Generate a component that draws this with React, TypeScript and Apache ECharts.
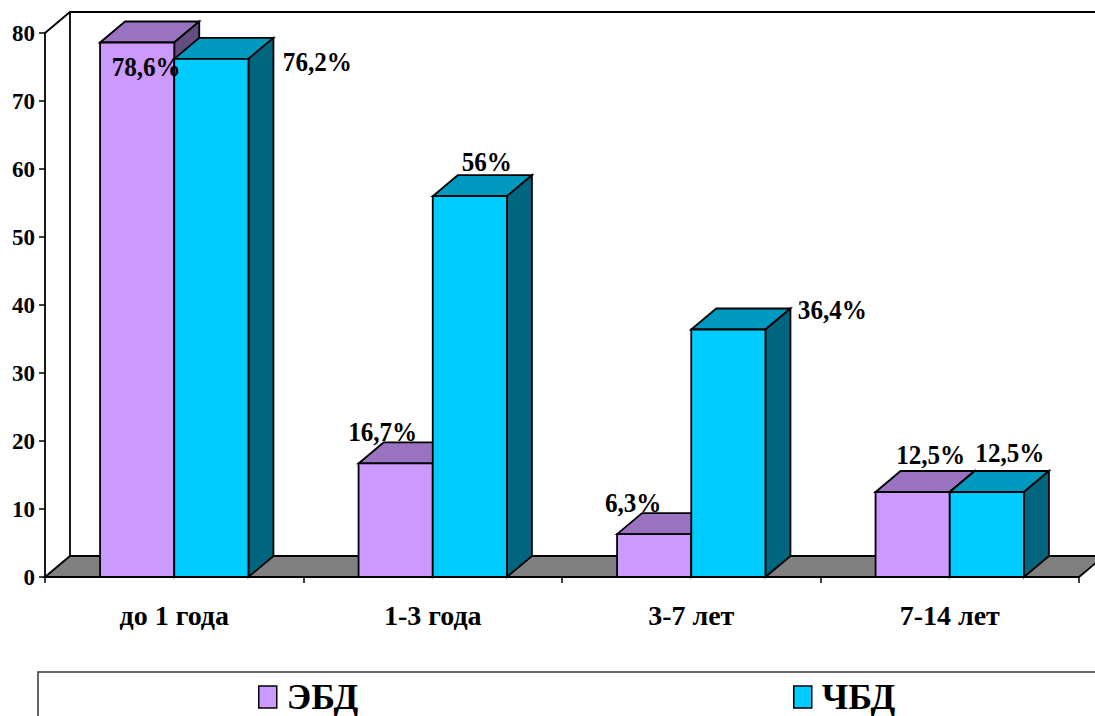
import React, { useEffect, useRef } from "react";
import * as echarts from "echarts";

const categories = ["до 1 года", "1-3 года", "3-7 лет", "7-14 лет"];
const seriesNames = ["ЭБД", "ЧБД"];
const ebdValues = [78.6, 16.7, 6.3, 12.5];
const chbdValues = [76.2, 56, 36.4, 12.5];
const yTicks = { min: 0, max: 80, interval: 10 };

// Shading of each column: front, top and side faces.
const ebdFaces = { front: "#CC99FF", top: "#9973BF", side: "#664D80" };
const chbdFaces = { front: "#00CCFF", top: "#0099BF", side: "#00667F" };

// Oblique projection of the 3D box, and the share of a category one column takes.
const DEPTH_X = 25;
const DEPTH_Y = 21;
const COLUMN_SHARE = 0.287;
const SERIF = "'Liberation Serif', 'Times New Roman', serif";

// Hand placement of the value captions relative to the top centre of their column.
const ebdLabelOffsets = [[9, 25], [-13, -31], [-21, -31], [18, -37]];
const chbdLabelOffsets = [[106, 3], [17, -34], [104, -19], [23, -39]];

const stroke = { stroke: "#000", lineWidth: 1.8 };

function columnSeries(name: string, values: number[], faces: typeof ebdFaces, side: number, z: number) {
  return {
    type: "custom",
    name,
    z,
    clip: false,
    itemStyle: { color: faces.front },
    encode: { x: 0, y: 1 },
    data: values.map((v, i) => [i, v]),
    renderItem: (_: unknown, api: any) => {
      const [cx, yTop] = api.coord([api.value(0), api.value(1)]);
      const [, yBase] = api.coord([api.value(0), 0]);
      const w = api.size([1, 0])[0] * COLUMN_SHARE;
      const x0 = side < 0 ? cx - w : cx;
      const x1 = x0 + w;
      return {
        type: "group",
        children: [
          {
            type: "polygon",
            shape: { points: [[x0, yTop], [x0 + DEPTH_X, yTop - DEPTH_Y], [x1 + DEPTH_X, yTop - DEPTH_Y], [x1, yTop]] },
            style: { fill: faces.top, ...stroke },
          },
          {
            type: "polygon",
            shape: { points: [[x1, yTop], [x1 + DEPTH_X, yTop - DEPTH_Y], [x1 + DEPTH_X, yBase - DEPTH_Y], [x1, yBase]] },
            style: { fill: faces.side, ...stroke },
          },
          {
            type: "rect",
            shape: { x: x0, y: yTop, width: w, height: yBase - yTop },
            style: { fill: faces.front, ...stroke },
          },
        ],
      };
    },
  };
}

function captionSeries(values: number[], offsets: number[][], side: number) {
  return {
    type: "custom",
    z: 20,
    clip: false,
    silent: true,
    encode: { x: 0, y: 1 },
    data: values.map((v, i) => [i, v]),
    renderItem: (params: any, api: any) => {
      const [cx, yTop] = api.coord([api.value(0), api.value(1)]);
      const w = api.size([1, 0])[0] * COLUMN_SHARE;
      const [dx, dy] = offsets[params.dataIndex];
      return {
        type: "text",
        x: cx + (side * w) / 2 + dx,
        y: yTop + dy,
        scaleX: 0.93,
        style: {
          text: String(api.value(1)).replace(".", ",") + "%",
          fill: "#000",
          font: `bold 27px ${SERIF}`,
          align: "center",
          verticalAlign: "middle",
        },
      };
    },
  };
}

// Floor and back edges of the 3D box.
const wallsSeries = {
  type: "custom",
  z: 1,
  clip: false,
  silent: true,
  encode: { x: 0, y: 1 },
  data: [[0, 0]],
  renderItem: (params: any, api: any) => {
    const c = params.coordSys;
    const left = c.x;
    const right = c.x + c.width;
    const top = c.y;
    const bottom = c.y + c.height;
    return {
      type: "group",
      children: [
        {
          type: "polygon",
          shape: { points: [[left, bottom], [left + DEPTH_X, bottom - DEPTH_Y], [right + DEPTH_X, bottom - DEPTH_Y], [right, bottom]] },
          style: { fill: "#808080", ...stroke },
        },
        {
          type: "polyline",
          shape: { points: [[left, top], [left + DEPTH_X, top - DEPTH_Y], [right + DEPTH_X, top - DEPTH_Y]] },
          style: { fill: "none", ...stroke },
        },
        {
          type: "line",
          shape: { x1: left + DEPTH_X, y1: top - DEPTH_Y, x2: left + DEPTH_X, y2: bottom - DEPTH_Y },
          style: stroke,
        },
      ],
    };
  },
};

// One legend per entry so that each can sit at its own place inside the frame.
function legendEntry(name: string, left: number) {
  return {
    data: [name],
    left,
    top: 679,
    icon: "rect",
    selectedMode: false,
    padding: 0,
    itemWidth: 18,
    itemHeight: 22,
    itemStyle: { borderColor: "#000", borderWidth: 1.5 },
    textStyle: { color: "#000", fontFamily: SERIF, fontWeight: "bold", fontSize: 36, lineHeight: 36, padding: [0, 0, 0, 5] },
  };
}

export default function App() {
  const ref = useRef<HTMLDivElement>(null);

  useEffect(() => {
    const chart = echarts.init(ref.current, undefined, { renderer: "svg" });
    chart.setOption({
      animation: false,
      backgroundColor: "#fff",
      grid: { left: 45, right: 16, top: 33, height: 544 },
      graphic: [
        {
          type: "rect",
          z: -1,
          shape: { x: 38, y: 672, width: 1090, height: 80 },
          style: { fill: "#fff", stroke: "#333", lineWidth: 1.5 },
        },
      ],
      xAxis: {
        type: "category",
        data: categories,
        axisLine: { lineStyle: { color: "#000", width: 2 } },
        axisTick: { show: true, alignWithLabel: false, length: 6, lineStyle: { color: "#000", width: 1.5 } },
        axisLabel: { color: "#000", fontFamily: SERIF, fontWeight: "bold", fontSize: 28, margin: 24, interval: 0 },
      },
      yAxis: {
        type: "value",
        ...yTicks,
        splitLine: { show: false },
        axisLine: { show: true, lineStyle: { color: "#000", width: 1.8 } },
        axisTick: { show: true, length: 6, lineStyle: { color: "#000", width: 1.5 } },
        axisLabel: { color: "#000", fontFamily: SERIF, fontWeight: "bold", fontSize: 23, margin: 10 },
      },
      legend: [legendEntry(seriesNames[0], 258), legendEntry(seriesNames[1], 793)],
      series: [
        wallsSeries,
        columnSeries(seriesNames[0], ebdValues, ebdFaces, -1, 5),
        columnSeries(seriesNames[1], chbdValues, chbdFaces, 1, 6),
        captionSeries(ebdValues, ebdLabelOffsets, -1),
        captionSeries(chbdValues, chbdLabelOffsets, 1),
      ],
    });
    return () => chart.dispose();
  }, []);

  return <div ref={ref} style={{ position: "absolute", left: 0, top: 0, width: 1095, height: 716, overflow: "hidden" }} />;
}
